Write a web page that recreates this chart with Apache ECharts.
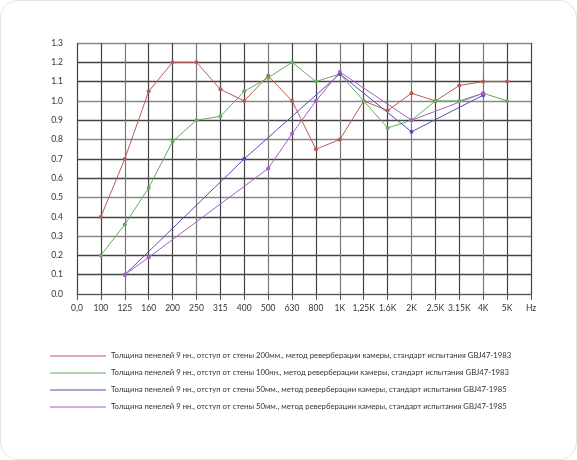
<!DOCTYPE html><html><head><meta charset="utf-8"><script src="https://cdn.jsdelivr.net/npm/echarts@6/dist/echarts.min.js"></script>
<style>html,body{margin:0;background:#fff}#c{width:577px;height:460px;box-sizing:border-box;border:1px solid #e4e4e4;border-radius:18px}</style></head><body><div id="c"></div><script>
const categories=['0,0','100','125','160','200','250','315','400','500','630','800','1K','1,25K','1.6K','2K','2.5K','3.15K','4K','5K','Hz'];
const yTicks=[0,0.1,0.2,0.3,0.4,0.5,0.6,0.7,0.8,0.9,1.0,1.1,1.2,1.3];
const names=['Толщина пенелей 9 нн., отступ от стены 200мм., метод реверберации камеры, стандарт испытания GBJ47-1983','Толщина пенелей 9 нн., отступ от стены 100нн., метод реверберации камеры, стандарт испытания GBJ47-1983','Толщина пенелей 9 нн., отступ от стены 50мм., метод реверберации камеры, стандарт испытания GBJ47-1985','Толщина пенелей 9 нн., отступ от стены 50мм., метод реверберации камеры, стандарт испытания GBJ47-1985\u200b'];
const red=[null,0.4,0.7,1.05,1.2,1.2,1.06,1.0,1.13,1.0,0.75,0.8,1.0,0.95,1.04,1.0,1.08,1.1,1.1,null];
const green=[null,0.2,0.36,0.55,0.79,0.9,0.92,1.05,1.12,1.2,1.1,1.14,1.0,0.86,0.9,1.0,1.0,1.04,1.0,null];
const blue=[null,null,0.1,null,null,null,null,0.7,null,null,null,1.14,null,null,0.84,null,null,1.03,null,null];
const purple=[null,null,0.1,0.19,null,null,null,null,0.65,0.83,1.0,1.15,null,null,0.9,null,null,1.04,null,null];
const colors=['#b85a55','#62ad5e','#4f4fbb','#a95cc9'];
const ch=echarts.init(document.getElementById('c'));
const mk=(d,i)=>({name:names[i],type:'line',data:d,connectNulls:true,symbol:'circle',symbolSize:4,lineStyle:{width:1,color:colors[i]},itemStyle:{color:colors[i]}});
ch.setOption({animation:false,color:colors,
grid:{left:76,right:45,top:42,bottom:165},
xAxis:{type:'category',data:categories,boundaryGap:false,axisLine:{lineStyle:{color:'#555'}},axisTick:{show:true,length:6,lineStyle:{color:'#555'}},axisLabel:{interval:0,color:'#333',fontFamily:'Lato',fontSize:8.5,margin:10},splitLine:{show:true,lineStyle:{color:['#444','#444','#777'],width:1.2}}},
yAxis:{type:'value',min:0,max:1.3,interval:0.1,axisLine:{show:false},axisTick:{show:false},axisLabel:{color:'#333',fontFamily:'Lato',fontSize:8.5,margin:14,formatter:v=>v.toFixed(1)},splitLine:{lineStyle:{color:['#888','#444','#444','#888','#444'],width:1.3}}},
legend:{orient:'vertical',left:44,top:346,itemWidth:56,itemHeight:6,itemGap:9,icon:'path://M0,2.5L56,2.5L56,3.5L0,3.5Z',textStyle:{fontFamily:'Lato',fontSize:7.7,color:'#333'}},
series:[mk(red,0),mk(green,1),mk(blue,2),mk(purple,3)]});
</script></body></html>
